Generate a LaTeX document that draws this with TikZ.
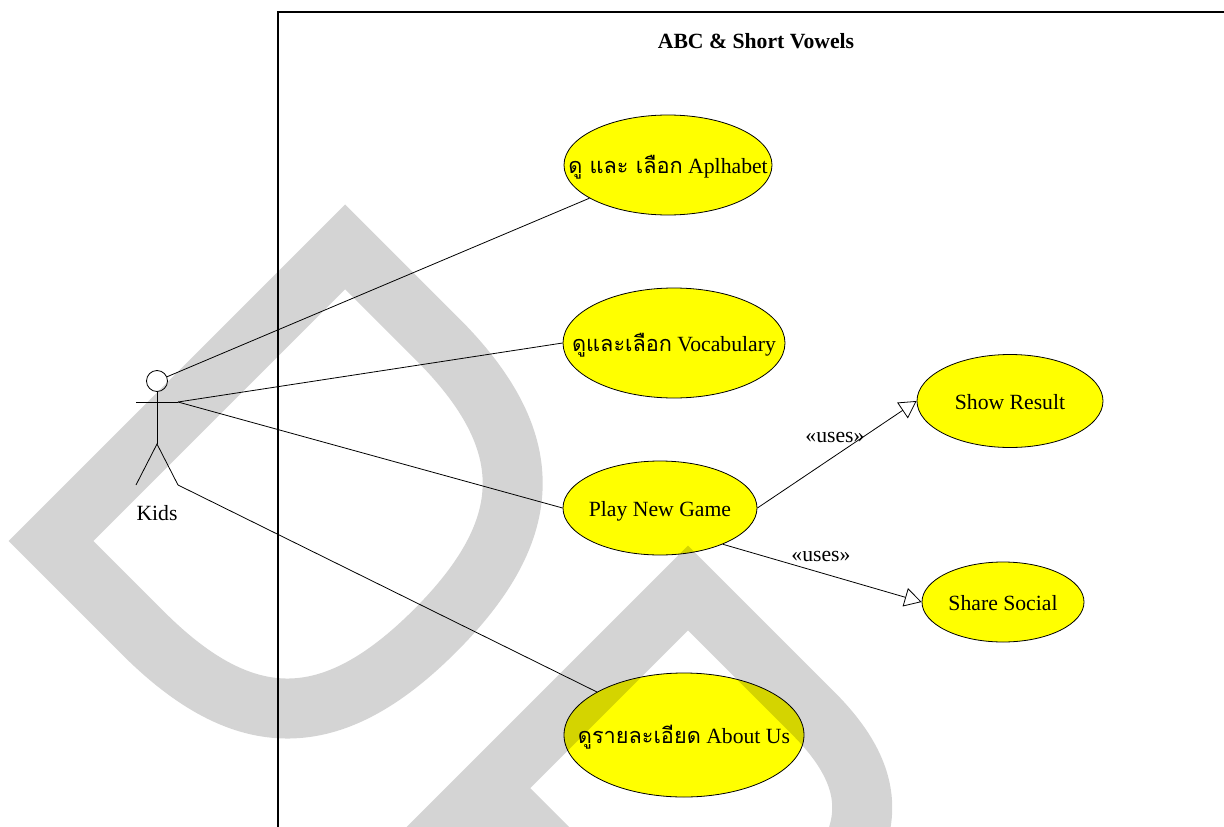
\documentclass[tikz,border=0pt]{standalone}
\usepackage{fontspec}
\setmainfont{Liberation Serif}
\newfontfamily\thaifont[Script=Thai]{Loma}
\usetikzlibrary{shapes.geometric,arrows.meta}
\definecolor{ucyellow}{RGB}{255,255,0}
\newcommand{\uctext}[1]{\makebox[0pt]{#1}}

\begin{document}
\begin{tikzpicture}[x=1pt,y=-1pt,font=\fontsize{21.7}{26}\selectfont,
    usecase/.style={ellipse,draw,line width=0.8pt,fill=ucyellow,inner sep=0pt,text height=16pt,text depth=0pt},
    assoc/.style={line width=0.8pt},
    uses/.style={line width=0.8pt,-{Triangle[open,length=17pt,width=19pt]}},
    wmark/.style={line width=60pt,line join=miter,draw=black,draw opacity=0.17}]
    \useasboundingbox(0,0)rectangle(1224,827);
    \draw[line width=1.3pt](278,827)--(278,12)--(1224,12);
    \node[font=\fontsize{21.7}{26}\selectfont\bfseries](title) at (756,41){ABC \& Short Vowels};

    % actor
    \node[circle,draw,line width=0.8pt,minimum size=21pt,inner sep=0pt](head) at (157,381){};
    \draw[assoc](head.south)--(157,444)coordinate(hip);
    \draw[assoc](136,402)--(178,402)coordinate(hand);
    \draw[assoc](136,485)--(hip)--(178,485)coordinate(foot);
    \node(kids) at (157,513){Kids};

    % use cases
    \node[usecase,minimum width=208pt,minimum height=100pt](alpha) at (668,165){\uctext{{\thaifont ดู และ เลือก} Aplhabet}};
    \node[usecase,minimum width=222pt,minimum height=110pt](voc) at (674,343){\uctext{{\thaifont ดูและเลือก} Vocabulary}};
    \node[usecase,minimum width=194pt,minimum height=94pt](play) at (660,508){\uctext{Play New Game}};
    \node[usecase,minimum width=186pt,minimum height=93pt](show) at (1010,401){\uctext{Show Result}};
    \node[usecase,minimum width=162pt,minimum height=80pt](share) at (1003,602){\uctext{Share Social}};
    \node[usecase,minimum width=240pt,minimum height=124pt](about) at (684,735){\uctext{{\thaifont ดูรายละเอียด} About Us}};

    \draw[assoc](head)--(alpha);
    \draw[assoc](hand)--(voc.west);
    \draw[assoc](hand)--(play.west);
    \draw[assoc](foot)--(about);

    \draw[uses](play.east)--(show.west);
    \draw[uses](play.-30)--(share.west);
    \node(uses1) at (835,437){«uses»};
    \node(uses2) at (821,556){«uses»};

    % watermark
    \begin{scope}[shift={(51,541)},x={(0.7071pt,-0.7071pt)},y={(0.7071pt,0.7071pt)}]
      \draw[wmark](0,0)--(0,416)--(130,416)..controls(273.5,416)and(335,353.6)..(335,208)
        ..controls(335,62.4)and(273.5,0)..(130,0)--cycle;
    \end{scope}
    \begin{scope}[shift={(688,588)},x={(0.7071pt,-0.7071pt)},y={(0.7071pt,0.7071pt)}]
      \draw[wmark](0,-420)--(0,0)--(177,0)..controls(271.5,0)and(312,-42.4)..(312,-141.5)
        ..controls(312,-240.6)and(271.5,-283)..(177,-283)--(0,-283);
    \end{scope}
\end{tikzpicture}
\end{document}
